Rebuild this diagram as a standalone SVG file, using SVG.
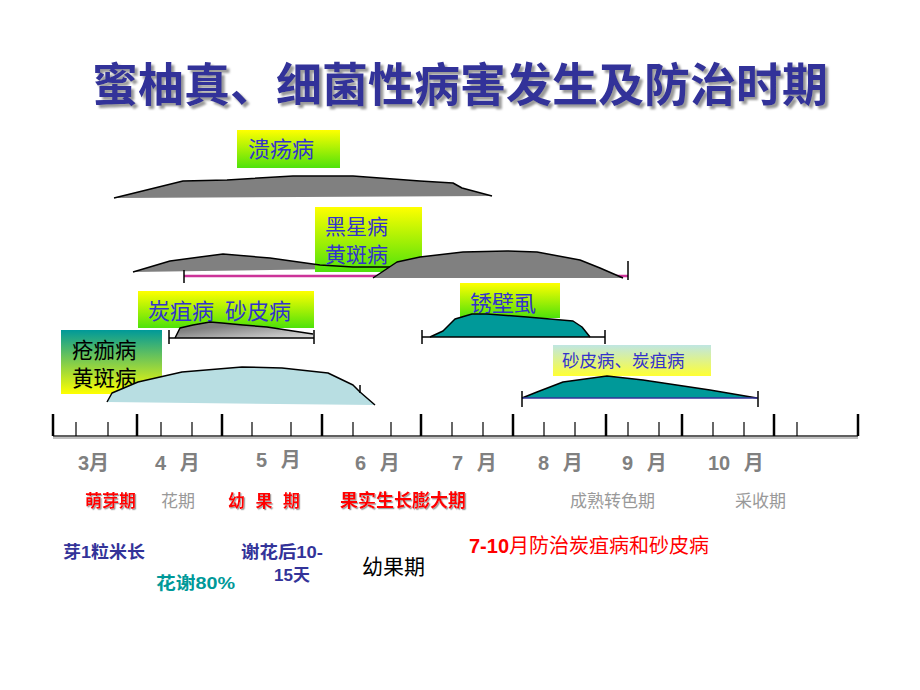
<svg xmlns="http://www.w3.org/2000/svg" width="920" height="690" viewBox="0 0 920 690">
<defs>
<linearGradient id="yg" x1="0" y1="0" x2="0" y2="1"><stop offset="0" stop-color="#ffff00"/><stop offset="1" stop-color="#4ee20a"/></linearGradient>
<linearGradient id="ty" x1="0" y1="0" x2="0" y2="1"><stop offset="0" stop-color="#009999"/><stop offset="1" stop-color="#ffff00"/></linearGradient>
<linearGradient id="cy" x1="0" y1="0" x2="0" y2="1"><stop offset="0" stop-color="#bfe6e2"/><stop offset="1" stop-color="#ffff33"/></linearGradient>
<linearGradient id="gw" x1="0" y1="0" x2="1" y2="1"><stop offset="0.3" stop-color="#808080"/><stop offset="1" stop-color="#e0e0e0"/></linearGradient>
<filter id="sh" x="-5%" y="-20%" width="110%" height="150%"><feDropShadow dx="3" dy="3" stdDeviation="0.8" flood-color="#9a9a9a" flood-opacity="1"/></filter>
<filter id="sh2" x="-5%" y="-20%" width="110%" height="150%"><feDropShadow dx="1.2" dy="1.2" stdDeviation="0.4" flood-color="#a0a0a0" flood-opacity="1"/></filter>
<style>
.t{font-family:"Noto Sans CJK SC","Noto Sans CJK JP",sans-serif}
.lb{font-size:22px;fill:#3333cc}
.gray{fill:#808080}
.edge{fill:none;stroke:#000;stroke-width:1.5;stroke-linejoin:round}
.br{fill:none;stroke:#000;stroke-width:1.5}
.mj{stroke:#000;stroke-width:2.5}
.mn{stroke:#000;stroke-width:1.2}
.mo{font-family:"Liberation Sans","Noto Sans CJK SC",sans-serif;font-size:20px;font-weight:bold;fill:#808080}
.red{font-size:17px;font-weight:bold;fill:#ff0000}
.ph{font-size:17px;fill:#999999}
.nv{font-family:"Liberation Sans","Noto Sans CJK SC",sans-serif;font-size:17px;font-weight:bold;fill:#333399}
</style>
</defs>
<rect width="920" height="690" fill="#fff"/>

<g id="title">
<text class="t" x="92" y="101" font-size="46" font-weight="bold" fill="#333399" filter="url(#sh)">蜜柚真、细菌性病害发生及防治时期</text>
</g>

<g id="kuiyang">
<polygon class="gray" points="114,198 183,181 227,180 293,176 353,176 420,181 453,183 462,188 492,196"/>
<polyline class="edge" points="114,198 183,181 227,180 293,176 353,176 420,181 453,183 462,188 492,196"/>
<rect x="237" y="130" width="103" height="38" fill="url(#yg)"/>
<text class="t lb" x="248" y="157">溃疡病</text>
</g>

<g id="heixing">
<polygon class="gray" points="133,272 170,261 200,257 223,254 270,258 320,265 353,267 405,267 405,268"/>
<rect x="315" y="207" width="107" height="65" fill="url(#yg)"/>
<polyline class="edge" points="133,272 170,261 200,257 223,254 270,258 320,265 353,267 405,267"/>
<text class="t lb" x="325" y="234" style="font-size:21px">黑星病</text>
<text class="t lb" x="325" y="262" style="font-size:21px">黄斑病</text>
<line x1="184" y1="276" x2="628" y2="276" stroke="#cc3399" stroke-width="2.5"/>
<line class="br" x1="184" y1="270" x2="184" y2="283"/>
<line class="br" x1="628" y1="261" x2="628" y2="280"/>
<polygon class="gray" points="373,278 397,262 420,257 463,252 507,251 537,252 580,260 600,268 623,278"/>
<polyline class="edge" points="373,278 397,262 420,257 463,252 507,251 537,252 580,260 600,268 623,278"/>
</g>

<g id="tanju">
<rect x="138" y="291" width="176" height="37" fill="url(#yg)"/>
<text class="t lb" x="148" y="319">炭疽病 <tspan dx="6">砂皮病</tspan></text>
<polygon fill="url(#gw)" points="175,338 180,328 193,325 210,322 222,323 243,325 267,327 293,331 313,334 313,338"/>
<polyline class="edge" points="175,338 180,328 193,325 210,322 222,323 243,325 267,327 293,331 313,334"/>
<line class="br" x1="169" y1="338" x2="314" y2="338"/>
<line class="br" x1="169" y1="330" x2="169" y2="344"/>
<line class="br" x1="314" y1="330" x2="314" y2="344"/>
</g>

<g id="chuangjia">
<rect x="61" y="330" width="101" height="64" fill="url(#ty)"/>
<text class="t" x="72" y="358" font-size="21.5" fill="#000">疮痂病</text>
<text class="t" x="72" y="386" font-size="21.5" fill="#000">黄斑病</text>
<polygon fill="#b8dee2" points="107,402 112,393 138,382 182,372 242,367 282,368 328,373 353,385 360,392 375,405"/>
<polyline class="edge" points="107,402 112,393 138,382 182,372 242,367 282,368 328,373 353,385 360,392 375,405"/>
<line class="br" x1="360" y1="385" x2="360" y2="393"/>
</g>

<g id="xiubishi">
<rect x="460" y="283" width="100" height="35" fill="url(#yg)"/>
<text class="t lb" x="470" y="311">锈壁虱</text>
<polygon fill="#009999" points="430,337 443,331 455,319 472,314 487,314 527,317 573,321 582,327 590,337"/>
<polyline class="edge" points="430,337 443,331 455,319 472,314 487,314 527,317 573,321 582,327 590,337"/>
<line class="br" x1="422" y1="337" x2="605" y2="337"/>
<line class="br" x1="422" y1="330" x2="422" y2="344"/>
<line class="br" x1="605" y1="330" x2="605" y2="344"/>
</g>

<g id="shapi">
<rect x="553" y="345" width="158" height="31" fill="url(#cy)"/>
<text class="t" x="562" y="367" font-size="17.5" fill="#3333cc">砂皮病、炭疽病</text>
<polygon fill="#009999" points="522,398 537,392 563,382 607,376 643,380 710,390 757,398"/>
<polyline class="edge" points="522,398 537,392 563,382 607,376 643,380 710,390 757,398"/>
<line x1="522" y1="398" x2="758" y2="398" stroke="#333399" stroke-width="1.5"/>
<line class="br" x1="522" y1="391" x2="522" y2="407"/>
<line class="br" x1="758" y1="391" x2="758" y2="407"/>
</g>

<g id="axis">
<line x1="53" y1="438" x2="858" y2="438" stroke="#c0c0c0" stroke-width="2"/>
<line x1="53" y1="436" x2="858" y2="436" stroke="#606060" stroke-width="2"/>
<g class="mj">
<line x1="53" y1="414" x2="53" y2="436"/><line x1="137" y1="414" x2="137" y2="436"/><line x1="222" y1="414" x2="222" y2="436"/><line x1="322" y1="414" x2="322" y2="436"/><line x1="421" y1="414" x2="421" y2="436"/><line x1="513" y1="414" x2="513" y2="436"/><line x1="606" y1="414" x2="606" y2="436"/><line x1="682" y1="414" x2="682" y2="436"/><line x1="774" y1="414" x2="774" y2="436"/><line x1="858" y1="414" x2="858" y2="436"/>
</g>
<g class="mn">
<line x1="76" y1="422" x2="76" y2="436"/><line x1="108" y1="422" x2="108" y2="436"/><line x1="161" y1="422" x2="161" y2="436"/><line x1="192" y1="422" x2="192" y2="436"/><line x1="252" y1="422" x2="252" y2="436"/><line x1="291" y1="422" x2="291" y2="436"/><line x1="353" y1="422" x2="353" y2="436"/><line x1="391" y1="422" x2="391" y2="436"/><line x1="452" y1="422" x2="452" y2="436"/><line x1="483" y1="422" x2="483" y2="436"/><line x1="544" y1="422" x2="544" y2="436"/><line x1="575" y1="422" x2="575" y2="436"/><line x1="628" y1="422" x2="628" y2="436"/><line x1="659" y1="422" x2="659" y2="436"/><line x1="713" y1="422" x2="713" y2="436"/><line x1="744" y1="422" x2="744" y2="436"/><line x1="797" y1="422" x2="797" y2="436"/>
</g>
<text class="mo" x="78" y="470">3月</text>
<text class="mo" x="155" y="470">4 <tspan dx="8">月</tspan></text>
<text class="mo" x="256" y="467">5 <tspan dx="8">月</tspan></text>
<text class="mo" x="355" y="470">6 <tspan dx="8">月</tspan></text>
<text class="mo" x="452" y="470">7 <tspan dx="8">月</tspan></text>
<text class="mo" x="538" y="470">8 <tspan dx="8">月</tspan></text>
<text class="mo" x="622" y="470">9 <tspan dx="8">月</tspan></text>
<text class="mo" x="708" y="470">10 <tspan dx="8">月</tspan></text>
</g>

<g id="phases">
<text class="t red" x="85" y="507" filter="url(#sh2)">萌芽期</text>
<text class="t ph" x="161" y="507">花期</text>
<text class="t red" x="228" y="507" textLength="72" lengthAdjust="spacing" filter="url(#sh2)">幼 果 期</text>
<text class="t red" x="340" y="507" style="font-size:18px" filter="url(#sh2)">果实生长膨大期</text>
<text class="t ph" x="570" y="507">成熟转色期</text>
<text class="t ph" x="735" y="507">采收期</text>
</g>

<g id="notes">
<text class="nv" x="63" y="558" textLength="82" lengthAdjust="spacingAndGlyphs">芽1粒米长</text>
<text class="nv" x="156" y="589" style="fill:#009999" textLength="79" lengthAdjust="spacingAndGlyphs">花谢80%</text>
<text class="nv" x="241" y="558" textLength="82" lengthAdjust="spacingAndGlyphs">谢花后10-</text>
<text class="nv" x="274" y="581">15天</text>
<text class="t" x="362" y="574" font-size="21" fill="#000">幼果期</text>
<text x="469" y="553" font-size="20" fill="#ff0000" class="t"><tspan font-family="Liberation Sans, sans-serif" font-weight="bold">7-10</tspan>月防治炭疽病和砂皮病</text>
</g>
</svg>
